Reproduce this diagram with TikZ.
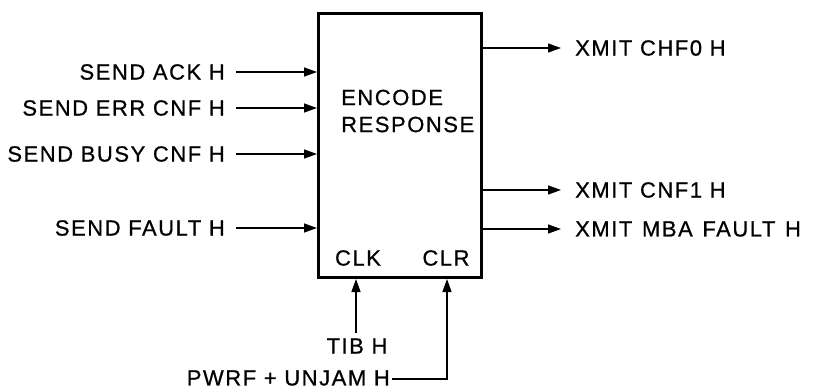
\documentclass[tikz,border=0pt]{standalone}
\usepackage{fontspec}
\setmainfont{Liberation Sans}[LetterSpace=7, BoldFont=Liberation Sans, BoldFeatures={FakeBold=0.7}]
\usetikzlibrary{arrows.meta}
\begin{document}
\begin{tikzpicture}[x=1pt,y=-1pt,
  lbl/.style={font=\fontsize{22}{25}\selectfont\bfseries, inner sep=0pt},
  sig/.style={line width=1.4pt, -{Triangle[length=13pt,width=9pt]}},
  blk/.style={draw, line width=3pt, inner sep=0pt}]
\useasboundingbox (0,0) rectangle (817,391);
% block
\node[blk, minimum width=163pt, minimum height=264pt, anchor=north west] (box) at (317,12) {};
\node[lbl, anchor=west, align=left] (title) at (341,111) {ENCODE\\[2pt]RESPONSE};
\node[lbl] (clk) at (358,258) {CLK};
\node[lbl] (clr) at (446,258) {CLR};
% inputs
\node[lbl, anchor=east] (i1) at (225,72) {SEND ACK H};
\node[lbl, anchor=east] (i2) at (225,108) {SEND ERR CNF H};
\node[lbl, anchor=east] (i3) at (225,154) {SEND BUSY CNF H};
\node[lbl, anchor=east] (i4) at (225,228) {SEND FAULT H};
\foreach \n/\y in {i1/72,i2/108,i3/154,i4/228}
  \draw[sig] ([xshift=11pt]\n.east) -- (box.west |- 0,\y);
% outputs
\node[lbl, anchor=west] (o1) at (575,48) {XMIT CHF0 H};
\node[lbl, anchor=west] (o2) at (575,190) {XMIT CNF1 H};
\node[lbl, anchor=west] (o3) at (575,229) {XMIT\hspace{2pt} MBA\hspace{2pt} FAULT\hspace{2pt} H};
\foreach \n/\y in {o1/48,o2/190,o3/229}
  \draw[sig] (box.east |- 0,\y) -- ([xshift=-14pt]\n.west);
% clock and clear
\node[lbl] (tib) at (357,346) {TIB H};
\node[lbl, anchor=east] (pw) at (390,378) {PWRF + UNJAM H};
\coordinate (corner) at (447,379);
\draw[sig] ([yshift=5pt]tib.north -| 356,0) -- (box.south -| 356,0);
\draw[sig] ([xshift=2pt]pw.east |- corner) -- (corner) -- (box.south -| corner);
\end{tikzpicture}
\end{document}
